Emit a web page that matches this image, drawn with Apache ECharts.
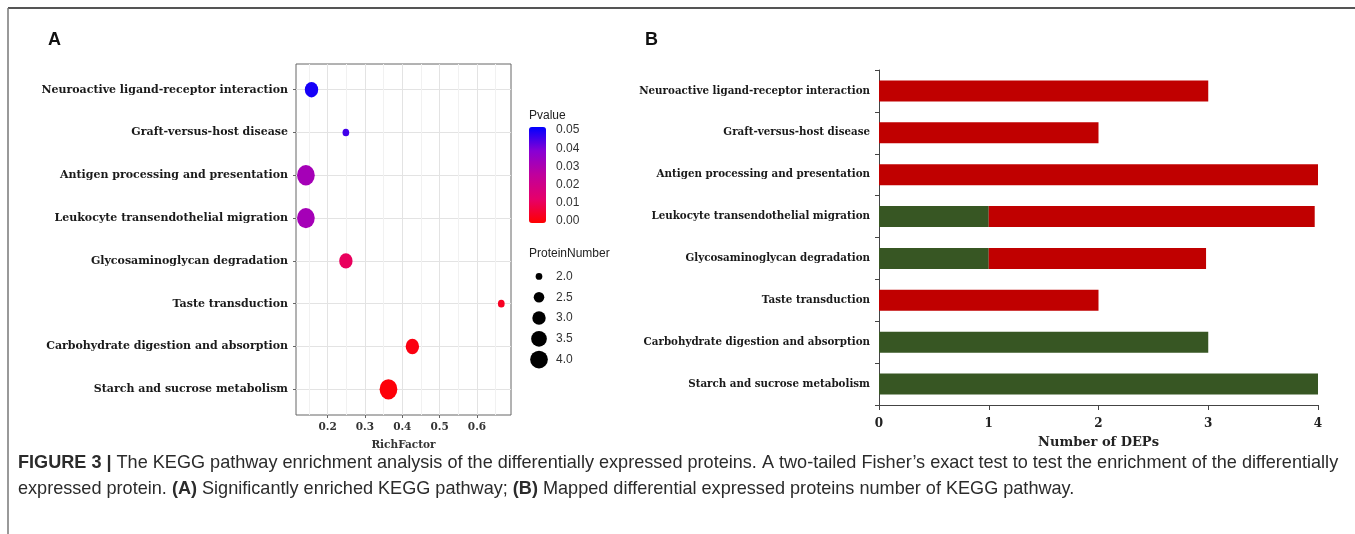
<!DOCTYPE html>
<html lang="en">
<head>
    <meta charset="UTF-8">
    <title>KEGG enrichment</title>
    <style>
        html, body { margin: 0; padding: 0; background: #fff; }
    </style>
</head>
<body>
<div id="main" style="width: 1355px; height: 534px;"></div>

<script src="https://cdn.jsdelivr.net/npm/echarts@6/dist/echarts.min.js"></script>

<script>
// pathways, top to bottom
var pathways = [
    'Neuroactive ligand-receptor interaction',
    'Graft-versus-host disease',
    'Antigen processing and presentation',
    'Leukocyte transendothelial migration',
    'Glycosaminoglycan degradation',
    'Taste transduction',
    'Carbohydrate digestion and absorption',
    'Starch and sucrose metabolism'
];
// panel A
var richFactor = [0.157, 0.249, 0.142, 0.142, 0.249, 0.665, 0.427, 0.363];
var pValue = [0.048, 0.044, 0.031, 0.031, 0.011, 0.004, 0.002, 0.001];
var proteinNumber = [3, 2, 4, 4, 3, 2, 3, 4];
var richTicks = [0.2, 0.3, 0.4, 0.5, 0.6];
var richMinor = [0.15, 0.2, 0.25, 0.3, 0.35, 0.4, 0.45, 0.5, 0.55, 0.6, 0.65];
var sizeLegend = [2.0, 2.5, 3.0, 3.5, 4.0];
// panel B
var greenCount = [0, 0, 0, 1, 1, 0, 3, 4];
var redCount = [3, 2, 4, 2.97, 1.98, 2, 0, 0];

var serif = '"DejaVu Serif", serif';
var sans = '"Liberation Sans", Arial, sans-serif';
var pColors = ['#ff0000', '#e6006a', '#c0009c', '#8800d4', '#0000ff'];

function dotW(n) { return Math.sqrt(45 + 134 * (n - 2)); }

var scatterData = pathways.map(function (p, i) {
    return [richFactor[i], i, pValue[i], proteinNumber[i]];
});

var myChart = echarts.init(document.getElementById('main'));

var option = {
    animation: false,
    backgroundColor: '#fff',
    grid: [
        {left: 296, top: 64, width: 215, height: 351, show: true, borderColor: '#666', borderWidth: 1, backgroundColor: '#fff'},
        {left: 879, top: 70, width: 439, height: 335},
        {left: 529, top: 266, width: 20, height: 104},
        {left: 545, top: 130, width: 1, height: 91}
    ],
    xAxis: [
        {
            gridIndex: 0, type: 'value', min: 0.1155, max: 0.691, position: 'bottom',
            axisLine: {show: false, onZero: false},
            axisTick: {show: false, customValues: richMinor},
            splitLine: {show: true, lineStyle: {color: ['#f1f1f1', '#e3e3e3']}},
            axisLabel: {show: false},
            name: 'RichFactor', nameLocation: 'middle', nameGap: 25,
            nameTextStyle: {fontFamily: serif, fontWeight: 'bold', fontSize: 10.5, color: '#333'}
        },
        {
            gridIndex: 1, type: 'value', min: 0, max: 4, interval: 1,
            axisLine: {show: true, lineStyle: {color: '#444'}},
            axisTick: {show: true, length: 5, lineStyle: {color: '#444'}},
            splitLine: {show: false},
            axisLabel: {fontFamily: serif, fontWeight: 'bold', fontSize: 12, color: '#222', margin: 13},
            name: 'Number of DEPs', nameLocation: 'middle', nameGap: 31,
            nameTextStyle: {fontFamily: serif, fontWeight: 'bold', fontSize: 13, color: '#222'}
        },
        {gridIndex: 2, type: 'value', min: -1, max: 1, show: false},
        {gridIndex: 3, type: 'value', min: 0, max: 1, show: false},
        {
            gridIndex: 0, type: 'value', min: 0.1155, max: 0.691, position: 'bottom',
            axisLine: {show: false, onZero: false},
            axisTick: {show: true, customValues: richTicks, length: 3, lineStyle: {color: '#666'}},
            splitLine: {show: false},
            axisLabel: {customValues: richTicks, fontFamily: serif, fontWeight: 'bold', fontSize: 10.5, color: '#333', margin: 7,
                formatter: function (v) { return v.toFixed(1); }}
        }
    ],
    yAxis: [
        {
            gridIndex: 0, type: 'value', inverse: true, min: -0.6, max: 7.6,
            axisLine: {show: false, onZero: false},
            axisTick: {show: true, customValues: [0, 1, 2, 3, 4, 5, 6, 7], length: 3, lineStyle: {color: '#666'}},
            splitLine: {show: true, lineStyle: {color: '#e3e3e3'}},
            axisLabel: {customValues: [0, 1, 2, 3, 4, 5, 6, 7], fontFamily: serif, fontWeight: 'bold', fontSize: 11, color: '#1a1a1a', margin: 8,
                formatter: function (v) { return pathways[v]; }}
        },
        {
            gridIndex: 1, type: 'category', inverse: true, data: pathways,
            axisLine: {show: true, lineStyle: {color: '#444'}},
            axisTick: {show: true, length: 4, lineStyle: {color: '#444'}},
            axisLabel: {fontFamily: serif, fontWeight: 'bold', fontSize: 10.3, color: '#1a1a1a', margin: 9}
        },
        {
            gridIndex: 2, type: 'category', inverse: true, position: 'right',
            data: sizeLegend.map(function (v) { return v.toFixed(1); }),
            axisLine: {show: false}, axisTick: {show: false},
            axisLabel: {fontFamily: sans, fontSize: 12, color: '#333', margin: 7}
        },
        {
            gridIndex: 3, type: 'value', min: 0, max: 0.05, interval: 0.01, position: 'right',
            axisLine: {show: false},
            axisTick: {show: true, inside: true, length: 3, lineStyle: {color: 'rgba(255,255,255,0.7)'}},
            splitLine: {show: false},
            axisLabel: {fontFamily: sans, fontSize: 12, color: '#333', margin: 10,
                formatter: function (v) { return v.toFixed(2); }}
        }
    ],
    visualMap: [{
        type: 'continuous', seriesIndex: 0, dimension: 2, min: 0, max: 0.05,
        inRange: {color: pColors},
        calculable: false, realtime: false,
        left: 514, top: 112, itemWidth: 17, itemHeight: 96,
        text: null, showLabel: false
    }],
    series: [
        {
            type: 'scatter', xAxisIndex: 0, yAxisIndex: 0, data: scatterData,
            symbolSize: function (d) { var w = dotW(d[3]); return [w, w * 1.15]; },
            itemStyle: {opacity: 1}
        },
        {
            name: 'green', type: 'bar', stack: 'dep', xAxisIndex: 1, yAxisIndex: 1, data: greenCount,
            barWidth: 21, itemStyle: {color: '#375623'}
        },
        {
            name: 'red', type: 'bar', stack: 'dep', xAxisIndex: 1, yAxisIndex: 1, data: redCount,
            barWidth: 21, itemStyle: {color: '#c00000'}
        },
        {
            type: 'scatter', xAxisIndex: 2, yAxisIndex: 2,
            data: sizeLegend.map(function (v, i) { return [0, i, v]; }),
            symbolSize: function (d) { return dotW(d[2]); },
            itemStyle: {color: '#000', opacity: 1}
        }
    ],
    graphic: [
        {type: 'line', shape: {x1: 8, y1: 8, x2: 1355, y2: 8}, style: {stroke: '#555', lineWidth: 2}},
        {type: 'line', shape: {x1: 8, y1: 8, x2: 8, y2: 534}, style: {stroke: '#777', lineWidth: 1.5}},
        {type: 'text', left: 48, top: 31, style: {text: 'A', font: 'bold 18px ' + sans, fill: '#111'}},
        {type: 'text', left: 645, top: 31, style: {text: 'B', font: 'bold 18px ' + sans, fill: '#111'}},
        {type: 'text', left: 529, top: 110, style: {text: 'Pvalue', font: '12px ' + sans, fill: '#222'}},
        {type: 'text', left: 529, top: 248, style: {text: 'ProteinNumber', font: '12px ' + sans, fill: '#222'}},
        {
            type: 'text', left: 18, top: 450,
            style: {
                text: '{b|FIGURE 3 |} The KEGG pathway enrichment analysis of the differentially expressed proteins. A two-tailed Fisher\u2019s exact test to test the enrichment of the differentially\nexpressed protein. {b|(A)} Significantly enriched KEGG pathway; {b|(B)} Mapped differential expressed proteins number of KEGG pathway.',
                font: '18.1px ' + sans, fill: '#2b2b2b', lineHeight: 26,
                rich: {b: {fontWeight: 'bold', fontSize: 18.1, fontFamily: sans, fill: '#2b2b2b', lineHeight: 26}}
            }
        }
    ]
};

myChart.setOption(option);
</script>
</body>
</html>
